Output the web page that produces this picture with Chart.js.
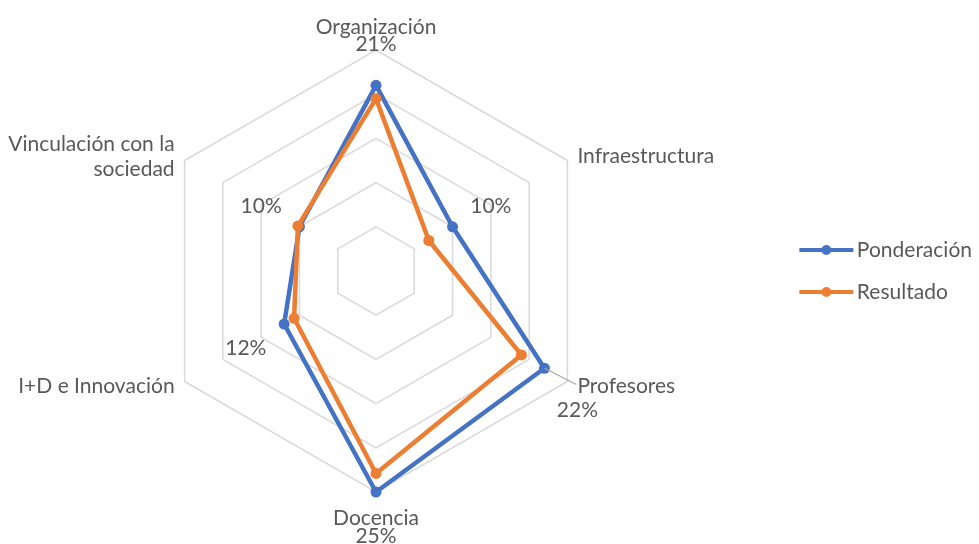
<!DOCTYPE html>
<html>
<head>
<meta charset="utf-8">
<script src="https://cdn.jsdelivr.net/npm/chart.js@4.4.1/dist/chart.umd.min.js"></script>
<style>
  html, body { margin: 0; padding: 0; background: #fff; overflow: hidden; }
  /* canvas is a bit wider than the page and pulled left, so the radar sits left of centre like the original */
  #wrap { width: 1014px; height: 544px; position: relative; margin-left: -32px; }
</style>
</head>
<body>
<div id="wrap"><canvas id="radar"></canvas></div>
<script>
// categories, clockwise from the top
const categories = ['Organización', 'Infraestructura', 'Profesores', 'Docencia', 'I+D e Innovación', ['Vinculación con la', 'sociedad']];
const ponderacion = [21, 10, 22, 25, 12, 10];
const resultado = [19.5, 6.9, 19.0, 22.9, 10.7, 10.2];
const seriesNames = ['Ponderación', 'Resultado'];
const scaleTicks = { min: 0, max: 25, step: 5 };

const BLUE = '#4472C4';
const ORANGE = '#ED7D31';
const TEXT = '#595959';

function legendIcon(color) {
    const c = document.createElement('canvas');
    c.width = 56;
    c.height = 12;
    const g = c.getContext('2d');
    g.strokeStyle = color;
    g.lineWidth = 4;
    g.beginPath();
    g.moveTo(1, 6);
    g.lineTo(55, 6);
    g.stroke();
    g.fillStyle = color;
    g.beginPath();
    g.arc(28, 6, 5, 0, Math.PI * 2);
    g.fill();
    return c;
}

// category names and Ponderación value labels, placed from the scale geometry
const axisLabels = {
    id: 'axisLabels',
    afterDraw(chart, args, opts) {
        const r = chart.scales.r;
        const ctx = chart.ctx;
        const pts = chart.getDatasetMeta(0).data;
        ctx.save();
        ctx.font = '21px Lato';
        ctx.fillStyle = TEXT;
        ctx.textBaseline = 'middle';
        categories.forEach((cat, i) => {
            const lines = [].concat(cat);
            const valueText = ponderacion[i] + '%';
            const outside = opts.outside.includes(i);
            const v = r.getPointPosition(i, r.drawingArea);
            const dx = v.x - r.xCenter;
            const dy = v.y - r.yCenter;
            if (Math.abs(dx) < 1) {
                ctx.textAlign = 'center';
                const all = outside ? lines.concat([valueText]) : lines;
                if (dy < 0) {
                    all.forEach((t, k) => ctx.fillText(t, v.x, v.y - 5.5 - (all.length - 1 - k) * 17.5));
                } else {
                    all.forEach((t, k) => ctx.fillText(t, v.x, v.y + 26 + k * 18));
                }
            } else {
                const x = dx > 0 ? v.x + 10 : v.x - 10;
                ctx.textAlign = dx > 0 ? 'left' : 'right';
                const y0 = v.y + (dy > 0 ? 5 : -4) - (lines.length - 1) * 12.5;
                lines.forEach((t, k) => ctx.fillText(t, x, y0 + k * 25));
                if (outside) {
                    ctx.textAlign = 'center';
                    ctx.fillText(valueText, x, y0 + lines.length * 24);
                }
                if (opts.leader.includes(i)) {
                    ctx.strokeStyle = '#a6a6a6';
                    ctx.lineWidth = 1.2;
                    ctx.beginPath();
                    ctx.moveTo(pts[i].x, pts[i].y);
                    ctx.lineTo(x - 1, y0 - 2);
                    ctx.stroke();
                }
            }
            if (!outside) {
                const p = r.getPointPosition(i, r.getDistanceFromCenterForValue(ponderacion[i] + 5));
                ctx.textAlign = 'center';
                ctx.fillText(valueText, p.x, p.y + 2);
            }
        });
        ctx.restore();
    }
};

new Chart(document.getElementById('radar'), {
    type: 'radar',
    data: {
        labels: categories,
        datasets: [{
            label: seriesNames[0],
            data: ponderacion,
            borderColor: BLUE,
            backgroundColor: BLUE,
            pointBackgroundColor: BLUE,
            borderWidth: 4.5,
            pointRadius: 5.5,
            pointBorderWidth: 0,
            borderJoinStyle: 'round',
            fill: false,
            order: 1
        }, {
            label: seriesNames[1],
            data: resultado,
            borderColor: ORANGE,
            backgroundColor: ORANGE,
            pointBackgroundColor: ORANGE,
            borderWidth: 4.5,
            pointRadius: 5.5,
            pointBorderWidth: 0,
            borderJoinStyle: 'round',
            fill: false,
            order: 0
        }]
    },
    options: {
        responsive: true,
        maintainAspectRatio: false,
        animation: false,
        layout: { padding: { left: 0, right: 0, top: 50, bottom: 52 } },
        scales: {
            r: {
                min: scaleTicks.min,
                max: scaleTicks.max,
                ticks: { display: false, stepSize: scaleTicks.step },
                grid: { color: '#d9d9d9', lineWidth: 1.5 },
                angleLines: { display: false },
                pointLabels: { display: false }
            }
        },
        plugins: {
            tooltip: { enabled: false },
            axisLabels: { outside: [0, 2, 3], leader: [2] },
            legend: {
                position: 'right',
                labels: {
                    font: { family: 'Lato', size: 21 },
                    color: TEXT,
                    padding: 21,
                    usePointStyle: true,
                    pointStyleWidth: 40,
                    sort: (a, b) => a.datasetIndex - b.datasetIndex,
                    generateLabels: (chart) => {
                        const items = Chart.defaults.plugins.legend.labels.generateLabels(chart);
                        items.forEach(it => {
                            it.pointStyle = legendIcon(it.datasetIndex === 0 ? BLUE : ORANGE);
                        });
                        return items;
                    }
                }
            }
        }
    },
    plugins: [axisLabels]
});
</script>
</body>
</html>
